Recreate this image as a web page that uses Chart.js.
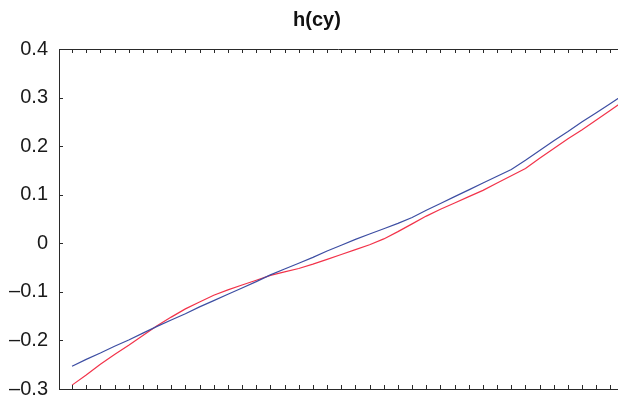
<!DOCTYPE html>
<html>
<head>
<meta charset="utf-8">
<script src="https://cdn.jsdelivr.net/npm/chart.js@4.4.1/dist/chart.umd.min.js"></script>
<style>
  html, body { margin: 0; padding: 0; background: #ffffff; }
  #wrap { width: 618px; height: 396px; }
</style>
</head>
<body>
<div id="wrap"><canvas id="c" width="618" height="396"></canvas></div>
<script>
// sample positions (one per minor tick on the horizontal axis)
const samples = [0, 1, 2, 3, 4, 5, 6, 7, 8, 9, 10, 11, 12, 13, 14, 15, 16, 17, 18, 19,
                 20, 21, 22, 23, 24, 25, 26, 27, 28, 29, 30, 31, 32, 33, 34, 35, 36, 37, 38, 39];

// blue curve
const blueValues = [-0.253, -0.239, -0.226, -0.212, -0.199, -0.185, -0.171, -0.158, -0.145, -0.131,
                    -0.118, -0.105, -0.092, -0.079, -0.065, -0.053, -0.041, -0.029, -0.016, -0.004,
                     0.008,  0.019,  0.030,  0.041,  0.053,  0.068,  0.082,  0.096,  0.110,  0.124,
                     0.138,  0.152,  0.171,  0.191,  0.211,  0.230,  0.250,  0.269,  0.288,  0.307];

// red curve
const redValues  = [-0.292, -0.271, -0.249, -0.229, -0.210, -0.190, -0.170, -0.152, -0.135, -0.121,
                    -0.107, -0.096, -0.086, -0.076, -0.066, -0.059, -0.052, -0.043, -0.033, -0.023,
                    -0.013, -0.003,  0.009,  0.024,  0.040,  0.056,  0.070,  0.083,  0.096,  0.109,
                     0.124,  0.139,  0.154,  0.175,  0.195,  0.215,  0.234,  0.254,  0.274,  0.294];

// y tick values and their labels
const yTicks  = [-0.3, -0.2, -0.1, 0, 0.1, 0.2, 0.3, 0.4];
const yLabels = ['\u20130.3', '\u20130.2', '\u20130.1', '0', '0.1', '0.2', '0.3', '0.4'];
const titleText = 'h(cy)';

const FONT = '"Liberation Sans", Arial, Helvetica, sans-serif';
const AXIS_COLOR = '#2a2a2a';

function toPoints(vals) {
  return samples.map((s, i) => ({ x: s, y: vals[i] }));
}

// frame: top border, inward tick marks on every edge, and the y labels
const frameTicks = {
  id: 'frameTicks',
  afterDraw(chart) {
    const { ctx, chartArea: a, scales } = chart;
    const xs = scales.x, ys = scales.y;
    ctx.save();
    ctx.strokeStyle = AXIS_COLOR;
    ctx.lineWidth = 1;
    ctx.beginPath();
    ctx.moveTo(a.left, a.top + 0.5);
    ctx.lineTo(a.right, a.top + 0.5);
    ctx.stroke();
    ctx.beginPath();
    for (let i = 0; i <= 38; i++) {
      const px = Math.round(xs.getPixelForValue(samples[i])) + 0.5;
      ctx.moveTo(px, a.bottom);
      ctx.lineTo(px, a.bottom - 4);
      ctx.moveTo(px, a.top);
      ctx.lineTo(px, a.top + 4);
    }
    yTicks.forEach(v => {
      const py = Math.round(ys.getPixelForValue(v)) + 0.5;
      ctx.moveTo(a.left, py);
      ctx.lineTo(a.left + 4, py);
    });
    ctx.stroke();

    ctx.fillStyle = '#1a1a1a';
    ctx.font = '20px ' + FONT;
    ctx.textAlign = 'right';
    ctx.textBaseline = 'middle';
    yTicks.forEach((v, i) => {
      ctx.fillText(yLabels[i], a.left - 11, ys.getPixelForValue(v));
    });
    ctx.restore();
  }
};

new Chart(document.getElementById('c'), {
  type: 'line',
  data: {
    datasets: [
      {
        data: toPoints(blueValues),
        borderColor: '#3d4ea3',
        borderWidth: 1.2,
        pointRadius: 0,
        tension: 0,
        fill: false
      },
      {
        data: toPoints(redValues),
        borderColor: '#f2334a',
        borderWidth: 1.2,
        pointRadius: 0,
        tension: 0,
        fill: false
      }
    ]
  },
  options: {
    responsive: false,
    animation: false,
    events: [],
    layout: { padding: { left: 16, right: 0, top: 0, bottom: 0 } },
    plugins: {
      legend: { display: false },
      tooltip: { enabled: false },
      title: {
        display: true,
        text: titleText,
        color: '#111111',
        font: { family: FONT, size: 20, weight: 'bold', lineHeight: 1.2 },
        padding: { top: 8, bottom: 17 }
      }
    },
    scales: {
      x: {
        type: 'linear',
        min: -0.92,
        max: 38.53,
        ticks: { display: false },
        grid: { display: false, drawTicks: false },
        border: { display: true, color: AXIS_COLOR, width: 1 },
        afterFit(scale) { scale.height = 7; scale.paddingLeft = 0; scale.paddingRight = 0; }
      },
      y: {
        type: 'linear',
        min: -0.3,
        max: 0.4,
        afterBuildTicks(scale) { scale.ticks = yTicks.map(v => ({ value: v })); },
        ticks: { display: false },
        grid: { drawOnChartArea: false, drawTicks: false },
        border: { display: true, color: AXIS_COLOR, width: 1 },
        afterFit(scale) { scale.width = 43; scale.paddingTop = 0; scale.paddingBottom = 0; }
      }
    }
  },
  plugins: [frameTicks]
});
</script>
</body>
</html>
